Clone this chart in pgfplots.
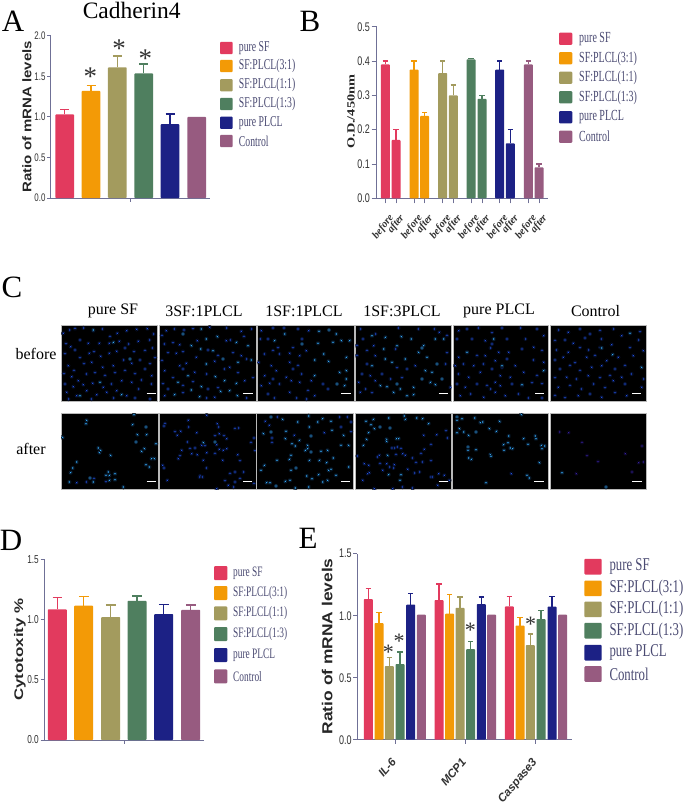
\documentclass[border=0pt]{standalone}
\usepackage{fontspec}
\usepackage{pgfplots}
\pgfplotsset{compat=1.18}
\setmainfont{Liberation Serif}
\newfontfamily\legf[FakeStretch=0.65]{Liberation Serif}
\newfontfamily\lege[FakeStretch=0.71]{Liberation Serif}
\newfontfamily\tickf[FakeStretch=0.72]{Liberation Sans}
\newfontfamily\titf[FakeStretch=1.2]{Liberation Sans}
\newfontfamily\titg[FakeStretch=1.35]{Liberation Sans}
\newfontfamily\titb[FakeStretch=1.3]{Liberation Serif}
\newfontfamily\plainsans{Liberation Sans}
\newcommand{\fs}[1]{\fontsize{#1}{#1}\selectfont}
\definecolor{cSF}{HTML}{E23A5E}
\definecolor{cA}{HTML}{F39A06}
\definecolor{cB}{HTML}{A39B5E}
\definecolor{cC}{HTML}{4F7F5F}
\definecolor{cP}{HTML}{1C2185}
\definecolor{cK}{HTML}{975B80}
\definecolor{axc}{HTML}{6F7096}
\definecolor{legt}{HTML}{4A4A72}
\definecolor{tickt}{HTML}{333333}
\definecolor{dimb}{HTML}{2458F5}
\definecolor{brib}{HTML}{35ACFF}
\definecolor{dimv}{HTML}{3A22B0}
\def\dimcol{dimb}

\pgfplotsset{
  barax/.style={scale only axis, clip=false, axis lines=left, axis line style={-, axc, line width=1pt},
    tick style={axc, line width=0.9pt}, tick align=outside, major tick length=3.5pt,
    enlargelimits=false, ymin=0, anchor=south west,
    /pgf/number format/assume math mode=true,
    /pgf/number format/fixed, /pgf/number format/fixed zerofill, /pgf/number format/precision=1,
    yticklabel style={text=tickt, inner sep=1.5pt}},
  panelax/.style={scale only axis, anchor=north west, y dir=reverse, ticks=none, clip marker paths=true,
    axis background/.style={fill=black}, axis line style={gray!55, line width=0.7pt}, enlargelimits=false}
}
% colour, x, value, error, bar width, cap half width
\newcommand{\abar}[6]{\addplot[ybar, bar shift=0pt, bar width=#5pt, fill=#1, draw=none, rounded corners=0.8pt,
   error bars/.cd, y dir=plus, y explicit, error bar style={#1, line width=1.2pt},
   error mark options={#1, rotate=90, mark size=#6pt, line width=1.4pt}]
   coordinates {(#2,#3) +- (0,#4)};}
% colour, x, value, bar width: a bar with no error bar
\newcommand{\cbar}[4]{\addplot[ybar, bar shift=0pt, bar width=#4pt, fill=#1, draw=none, rounded corners=0.8pt]
   coordinates {(#2,#3)};}
% L R T B offx offy dim bright scalebar-x
\newcommand{\panel}[9]{%
 \pgfmathsetmacro{\pw}{#2-#1}\pgfmathsetmacro{\ph}{#4-#3}%
 \pgfmathsetmacro{\zxa}{(#1-#5)*3}\pgfmathsetmacro{\zxb}{(#2-#5)*3}%
 \pgfmathsetmacro{\zya}{(#3-#6)*3}\pgfmathsetmacro{\zyb}{(#4-#6)*3}%
 \pgfmathsetmacro{\sbe}{#9+28}\pgfmathsetmacro{\sby}{\zyb-24}%
 \begin{axis}[panelax, width=\pw pt, height=\ph pt, at={(#1pt,-#3pt)},
    xmin=\zxa, xmax=\zxb, ymin=\zya, ymax=\zyb]
  \addplot[only marks, mark=*, mark size=2pt, mark options={draw=none, fill=\dimcol, fill opacity=0.4}] coordinates {#7};
  \addplot[only marks, mark=*, mark size=1.35pt, mark options={draw=none, fill=\dimcol}] coordinates {#7};
  \addplot[only marks, mark=*, mark size=2.1pt, mark options={draw=none, fill=brib!70!dimb, fill opacity=0.45}] coordinates {#8};
  \addplot[only marks, mark=*, mark size=1.4pt, mark options={draw=none, fill=brib}] coordinates {#8};
  \addplot[white, line width=1.2pt] coordinates {(#9,\sby) (\sbe,\sby)};
 \end{axis}}
\newcommand{\astar}[3]{\node[font=\fs{#3}, text=black!80, inner sep=0pt, yshift=-0.135*#3 pt] at (#1pt,-#2pt) {*};}

\begin{document}
\begin{tikzpicture}[x=1pt,y=1pt]
\path[use as bounding box, fill=white] (0,0) rectangle (685pt,-805pt);

% ---------- panel letters and titles
\foreach \x/\y/\t in {13/21/A,310/21/B,12/287/C,11/540/D,308/538/E}
  \node[font=\fs{31}, inner sep=0pt] at (\x pt,-\y pt) {\t};
\node[font=\fs{23.5}, inner sep=0pt] at (131.7pt,-10.7pt) {Cadherin4};

% ---------- A
\begin{axis}[barax, width=159.3pt, height=162.3pt, at={(50.7pt,-198pt)},
   xmin=50.7, xmax=210, ymax=2, ytick={0,0.5,1,1.5,2}, xtick={130}, xticklabels={},
   yticklabel style={font=\tickf\fs{11}}]
 \abar{cSF}{64.7}{1.03}{0.06}{18.7}{4.5}
 \abar{cA}{91}{1.32}{0.07}{18.7}{4.5}
 \abar{cB}{117.3}{1.61}{0.14}{18.7}{4.5}
 \abar{cC}{143.7}{1.535}{0.115}{18.7}{4.5}
 \abar{cP}{170}{0.91}{0.125}{18.7}{4.5}
 \cbar{cK}{196.7}{1.0}{18.7}
\end{axis}
\node[rotate=90, font=\titf\bfseries\fs{12.5}, text=black!85, inner sep=0pt] at (27pt,-116.7pt) {Ratio of mRNA levels};
\astar{90.3}{73.3}{27}\astar{119}{45}{27}\astar{145.3}{55}{27}
\foreach \y/\c/\t in {48/cSF/pure SF,66/cA/SF:PLCL(3:1),85.3/cB/SF:PLCL(1:1),104/cC/SF:PLCL(1:3),122.7/cP/pure PLCL,141/cK/Control}{
  \fill[\c, rounded corners=1pt] (220pt,-\y pt-6.1pt) rectangle (232.7pt,-\y pt+6.1pt);
  \node[anchor=west, font=\legf\fs{15}, text=legt, inner sep=0pt] at (238.7pt,-\y pt) {\t};}

% ---------- B
\begin{axis}[barax, width=171.6pt, height=171.6pt, at={(376.7pt,-198.3pt)},
   xmin=376.7, xmax=548.3, ymax=0.5, ytick={0,0.1,0.2,0.3,0.4,0.5},
   xtick={385.3,396,414,424.7,442.7,453.3,471,482,499.7,510.3,528.3,539},
   xticklabels={before,after,before,after,before,after,before,after,before,after,before,after},
   major tick length=5pt,
   xticklabel style={rotate=52, anchor=north east, font=\itshape\bfseries\fs{10.5}, text=tickt, inner sep=1pt, xshift=-5pt, yshift=-7pt},
   yticklabel style={font=\tickf\fs{12.5}}]
 \abar{cSF}{385.3}{0.39}{0.01}{9}{2.6}
 \abar{cSF}{396}{0.17}{0.03}{9}{2.6}
 \abar{cA}{414}{0.375}{0.025}{9}{2.6}
 \abar{cA}{424.7}{0.24}{0.01}{9}{2.6}
 \abar{cB}{442.7}{0.365}{0.035}{9}{2.6}
 \abar{cB}{453.3}{0.30}{0.03}{9}{2.6}
 \abar{cC}{471}{0.405}{0.003}{9}{2.6}
 \abar{cC}{482}{0.29}{0.01}{9}{2.6}
 \abar{cP}{499.7}{0.375}{0.025}{9}{2.6}
 \abar{cP}{510.3}{0.16}{0.04}{9}{2.6}
 \abar{cK}{528.3}{0.39}{0.01}{9}{2.6}
 \abar{cK}{539}{0.09}{0.01}{9}{2.6}
\end{axis}
\node[rotate=90, font=\titb\bfseries\fs{11}, text=black!85, inner sep=0pt] at (351pt,-111.7pt) {O.D./450nm};
\foreach \y/\c/\t in {38.7/cSF/pure SF,58.3/cA/SF:PLCL(3:1),77.7/cB/SF:PLCL(1:1),97.3/cC/SF:PLCL(1:3),117.3/cP/pure PLCL,136.7/cK/Control}{
  \fill[\c, rounded corners=1pt] (559pt,-\y pt-6.1pt) rectangle (572.3pt,-\y pt+6.1pt);
  \node[anchor=west, font=\legf\fs{15.4}, text=legt, inner sep=0pt] at (579pt,-\y pt) {\t};}

% ---------- C labels
\foreach \x/\t in {113/pure SF,204/3SF:1PLCL,304/1SF:1PLCL,402/1SF:3PLCL,499/pure PLCL,595.5/Control}
  \node[font=\fs{16}, inner sep=0pt] at (\x pt,-311pt) {\t};
\node[font=\fs{16}, inner sep=0pt] at (36pt,-354pt) {before};
\node[font=\fs{16}, inner sep=0pt] at (31pt,-449pt) {after};

% ---------- C images, before
\panel{61}{157}{325.7}{401.5}{60}{324}
{(10,28)(28,18)(45,14)(70,12)(100,20)(128,15)(150,38)(172,28)(200,20)(230,16)(262,14)(280,30)(18,58)(32,68)(60,48)(85,58)(118,58)(148,58)(178,52)(205,60)(235,52)(268,48)(15,88)(45,78)(60,100)(88,88)(102,82)(122,97)(148,88)(170,82)(195,72)(222,82)(255,80)(278,72)(25,125)(42,140)(72,118)(95,115)(128,130)(160,125)(190,108)(215,118)(240,108)(270,118)(285,100)(12,148)(35,158)(55,170)(80,150)(105,145)(135,155)(165,145)(195,140)(225,148)(255,135)(275,155)(15,180)(40,188)(70,182)(98,178)(130,190)(155,180)(185,170)(215,175)(245,168)(275,180)(20,205)(50,215)(80,200)(110,212)(140,205)(170,200)(200,215)(235,195)(25,225)(95,225)(160,222)(225,222)(270,225)}
{(100,18)(160,55)(210,105)(120,175)(60,215)(185,212)}{260}
\panel{159.7}{256}{325.7}{401.5}{158}{324}
{(12,35)(25,20)(50,15)(78,18)(105,13)(155,10)(205,12)(250,22)(280,15)(20,60)(45,55)(65,62)(118,50)(205,50)(218,48)(258,38)(12,110)(30,85)(55,88)(75,82)(150,78)(180,95)(225,85)(250,95)(65,125)(85,118)(115,100)(170,112)(215,130)(265,105)(20,140)(45,160)(75,135)(110,145)(145,150)(200,135)(240,145)(285,160)(15,178)(30,195)(75,185)(105,172)(150,195)(180,190)(260,170)(20,215)(75,205)(145,222)(170,220)(265,222)}
{(75,30)(145,45)(130,15)(178,38)(100,65)(128,75)(165,80)(235,55)(270,65)(195,105)(145,120)(240,115)(280,108)(90,155)(60,175)(130,188)(172,158)(200,170)(235,178)(50,212)(125,218)(188,202)(215,200)(100,198)(238,215)}{256}
\panel{257.3}{354}{325.7}{401.5}{158}{324}
{(310,20)(345,12)(378,12)(420,15)(452,20)(330,45)(308,45)(360,70)(345,80)(405,70)(432,45)(445,80)(320,90)(365,90)(395,88)(425,95)(302,115)(340,125)(395,115)(420,125)(405,135)(355,140)(320,155)(345,165)(385,160)(430,150)(310,185)(335,178)(365,180)(400,170)(425,175)(460,170)(495,180)(450,200)(330,210)(395,205)(415,222)(470,215)(510,195)(445,225)(350,222)}
{(483,22)(513,18)(535,30)(550,50)(575,50)(480,58)(525,55)(432,60)(350,50)(380,30)(497,90)(470,108)(565,100)(512,112)(545,145)(565,140)(470,155)(537,180)(560,185)(565,165)}{550}
\panel{355.3}{451.3}{325.7}{401.5}{352}{324}
{(25,15)(33,45)(70,30)(140,12)(200,15)(248,15)(262,25)(285,35)(15,65)(65,65)(130,75)(45,80)(70,95)(15,95)(285,85)(190,125)(165,135)(135,130)(45,120)(30,150)(55,155)(70,170)(20,175)(40,195)(60,205)(90,150)(115,165)(295,190)(25,205)(150,160)(280,120)}
{(60,35)(100,40)(148,38)(178,45)(215,65)(210,72)(250,45)(275,45)(95,75)(135,65)(200,85)(225,100)(160,105)(120,115)(100,105)(60,125)(255,120)(220,140)(240,145)(210,165)(235,175)(270,165)(135,180)(145,195)(185,190)(165,215)(105,188)(85,185)(125,205)(185,212)(250,182)}{260}
\panel{453.3}{548.7}{325.7}{401.5}{352}{324}
{(320,20)(345,15)(380,12)(420,25)(450,12)(505,12)(555,15)(575,35)(315,45)(360,45)(400,50)(420,60)(415,72)(465,45)(520,45)(545,70)(345,85)(375,95)(320,100)(400,95)(440,85)(470,85)(510,75)(570,80)(310,125)(335,120)(365,125)(395,120)(430,110)(465,105)(450,130)(490,125)(545,108)(575,115)(320,150)(350,160)(385,145)(420,135)(445,155)(475,160)(515,145)(555,155)(578,140)(315,180)(340,190)(375,180)(405,185)(430,175)(415,195)(445,185)(480,180)(510,185)(540,175)(570,178)(325,215)(355,210)(395,220)(430,205)(460,215)(500,210)(530,222)(570,222)}
{(510,182)(425,45)(345,85)(450,125)(575,140)}{549}
\panel{550.7}{646}{325.7}{401.5}{550}{324}
{(25,18)(55,25)(90,15)(120,30)(150,20)(190,15)(270,22)(15,50)(45,48)(70,58)(105,42)(155,45)(215,35)(265,48)(20,78)(55,85)(90,70)(115,78)(150,70)(185,62)(240,70)(280,80)(15,108)(40,100)(75,115)(110,100)(135,95)(170,110)(205,100)(250,95)(30,135)(60,125)(90,140)(125,130)(155,125)(195,135)(225,125)(15,160)(50,160)(80,165)(115,155)(150,160)(180,155)(215,160)(245,150)(280,165)(25,190)(60,185)(95,195)(130,180)(165,190)(190,170)(225,180)(15,215)(45,220)(85,215)(120,210)(155,220)(195,205)(230,215)(275,190)}
{(188,92)(155,72)(240,28)(275,130)}{246}
% ---------- C images, after
\panel{61}{158}{413.7}{489.3}{60}{412}
{(80,210)(102,200)(138,208)(50,212)}
{(80,25)(78,35)(8,76)(222,8)(218,38)(258,45)(232,68)(260,68)(228,90)(245,118)(253,110)(288,95)(115,108)(122,115)(118,122)(152,130)(275,140)(283,140)(258,158)(268,165)(50,150)(38,168)(32,182)(28,210)(145,180)(148,190)(138,190)(165,185)(90,198)(100,210)(148,205)(165,203)(190,225)}{260}
\panel{159.3}{256}{413.7}{489.3}{60}{412}
{(315,35)(312,42)(345,58)(362,58)(352,70)(385,25)(385,45)(410,62)(440,10)(472,35)(475,45)(465,70)(478,65)(492,70)(500,80)(525,50)(535,48)(582,78)(573,92)(585,115)(425,100)(435,100)(470,98)(500,110)(490,115)(478,112)(383,90)(365,115)(390,110)(405,108)(395,125)(412,128)(360,130)(355,140)(440,122)(465,125)(430,145)(488,145)(533,128)(540,145)(308,160)(312,168)(322,205)(440,168)(420,192)(428,195)(418,195)(510,185)(525,180)(550,180)(495,205)(505,220)(525,210)(540,200)(520,225)(470,230)(582,215)}
{(465,90)(430,92)}{549}
\panel{256.7}{353.7}{413.7}{489.3}{256}{412}
{(65,15)(28,28)(250,15)(275,15)(285,30)(255,45)(285,58)(40,40)(48,78)(205,62)(115,70)(48,92)}
{(45,15)(80,22)(125,30)(158,12)(200,20)(185,30)(160,45)(22,65)(90,58)(45,60)(88,80)(165,72)(225,28)(228,55)(263,70)(130,85)(108,95)(155,100)(155,110)(118,102)(195,118)(215,115)(255,100)(278,100)(148,115)(165,120)(232,138)(105,130)(160,145)(212,152)(63,145)(100,142)(190,145)(25,160)(120,168)(105,175)(278,165)(225,172)(218,175)(15,175)(152,192)(168,200)(188,188)(240,190)(102,205)(88,208)(32,212)(42,212)(60,222)(200,210)(118,228)(158,225)(215,205)}{255}
\panel{355.3}{451.3}{413.7}{489.3}{256}{412}
{(503,70)(542,68)(570,55)(575,78)(525,98)(505,112)(495,125)(408,108)(415,108)(425,105)(435,110)(420,128)(440,125)(448,130)(370,130)(365,135)(305,132)(470,138)(525,145)(480,152)(372,155)(392,155)(415,158)(400,165)(412,168)(500,150)(325,155)(338,160)(455,172)(335,185)(340,182)(380,175)(475,183)(490,180)(525,195)(530,195)(548,185)(565,190)(580,205)(545,220)(355,230)(410,230)(470,228)(320,205)(440,225)}
{(352,22)(398,18)(445,12)(448,22)(482,18)(500,20)(330,28)(345,38)(355,50)(372,45)(402,48)(518,35)(338,62)(332,82)(392,82)(422,80)(428,80)(392,88)(322,100)(395,130)(398,188)(435,188)(432,205)}{548}
\panel{452.7}{548.3}{413.7}{489.3}{452}{412}
{(178,185)}
{(15,15)(15,25)(30,20)(68,18)(85,32)(92,30)(143,28)(208,8)(72,60)(112,50)(133,58)(170,72)(215,80)(250,72)(252,80)(228,97)(155,98)(168,92)(175,108)(182,110)(156,115)(268,100)(278,102)(270,110)(48,105)(48,115)(72,113)(115,128)(117,133)(50,138)(58,142)(262,152)(225,190)(232,198)(102,212)(50,70)(22,50)(15,62)(35,60)}{247}
\def\dimcol{dimv}
\panel{550}{646}{413.7}{489.3}{452}{412}
{(322,60)(350,62)(570,102)(560,152)(575,150)(540,180)(373,185)(438,148)(520,125)(390,92)(405,130)}
{(330,182)(462,225)}{541}

% ---------- D
\begin{axis}[barax, width=160pt, height=180.7pt, at={(44pt,-740pt)},
   xmin=44, xmax=204, ymax=1.5, ytick={0,0.5,1,1.5}, xtick={124}, xticklabels={},
   yticklabel style={font=\tickf\fs{11.5}}]
 \abar{cSF}{57.3}{1.085}{0.10}{19}{4.8}
 \abar{cA}{83.7}{1.115}{0.075}{19}{4.8}
 \abar{cB}{110.7}{1.02}{0.10}{19}{4.8}
 \abar{cC}{137}{1.155}{0.04}{19}{4.8}
 \abar{cP}{163.7}{1.045}{0.08}{19}{4.8}
 \abar{cK}{190.7}{1.08}{0.04}{19}{4.8}
\end{axis}
\node[rotate=90, font=\titg\bfseries\fs{12.5}, text=black!85, inner sep=0pt] at (20pt,-649.5pt) {Cytotoxity \%};
\foreach \y/\c/\t in {573/cSF/pure SF,593/cA/SF:PLCL(3:1),613.3/cB/SF:PLCL(1:1),634/cC/SF:PLCL(1:3),655/cP/pure PLCL,676.3/cK/Control}{
  \fill[\c, rounded corners=1pt] (214pt,-\y pt-7pt) rectangle (227.3pt,-\y pt+7pt);
  \node[anchor=west, font=\legf\fs{14.4}, text=legt, inner sep=0pt] at (233pt,-\y pt) {\t};}

% ---------- E
\begin{axis}[barax, width=214.4pt, height=186pt, at={(357.3pt,-739.7pt)},
   xmin=357.3, xmax=571.7, ymax=1.5, ytick={0,0.5,1,1.5},
   xtick={395,465,535.7}, xticklabels={IL-6,MCP1,Caspase3},
   major tick length=4pt,
   xticklabel style={rotate=50, anchor=north east, font=\plainsans\itshape\bfseries\fs{11.5}, text=tickt, inner sep=1pt, yshift=-4pt, xshift=-12pt},
   yticklabel style={font=\tickf\fs{12.5}}]
 \abar{cSF}{368.3}{1.134}{0.086}{9}{2.6}
 \abar{cA}{379}{0.94}{0.084}{9}{2.6}
 \abar{cB}{389.3}{0.594}{0.07}{9}{2.6}
 \abar{cC}{400}{0.61}{0.097}{9}{2.6}
 \abar{cP}{410.7}{1.09}{0.087}{9}{2.6}
 \cbar{cK}{421.3}{1.008}{9}
 \abar{cSF}{439}{1.126}{0.129}{9}{2.6}
 \abar{cA}{449.7}{1.016}{0.154}{9}{2.6}
 \abar{cB}{460}{1.064}{0.086}{9}{2.6}
 \abar{cC}{470.7}{0.73}{0.06}{9}{2.6}
 \abar{cP}{481.3}{1.094}{0.056}{9}{2.6}
 \cbar{cK}{491.7}{1.008}{9}
 \abar{cSF}{509.3}{1.075}{0.08}{9}{2.6}
 \abar{cA}{520}{0.92}{0.064}{9}{2.6}
 \abar{cB}{530.3}{0.763}{0.089}{9}{2.6}
 \abar{cC}{541}{0.973}{0.067}{9}{2.6}
 \abar{cP}{552}{1.073}{0.082}{9}{2.6}
 \cbar{cK}{562.7}{1.008}{9}
\end{axis}
\node[rotate=90, font=\titf\bfseries\fs{14.5}, text=black!85, inner sep=0pt] at (327.3pt,-646.3pt) {Ratio of mRNA levels};
\astar{388.3}{649}{22}\astar{399}{638}{22}\astar{470.3}{627.7}{22}\astar{530.7}{621.7}{22}
\foreach \y/\c/\t in {566.7/cSF/pure SF,588.3/cA/SF:PLCL(3:1),609.3/cB/SF:PLCL(1:1),630.7/cC/SF:PLCL(1:3),652.7/cP/pure PLCL,674/cK/Control}{
  \fill[\c, rounded corners=1pt] (584.3pt,-\y pt-7.8pt) rectangle (601.7pt,-\y pt+7.8pt);
  \node[anchor=west, font=\lege\fs{18}, text=legt, inner sep=0pt] at (609.3pt,-\y pt) {\t};}
\end{tikzpicture}
\end{document}
